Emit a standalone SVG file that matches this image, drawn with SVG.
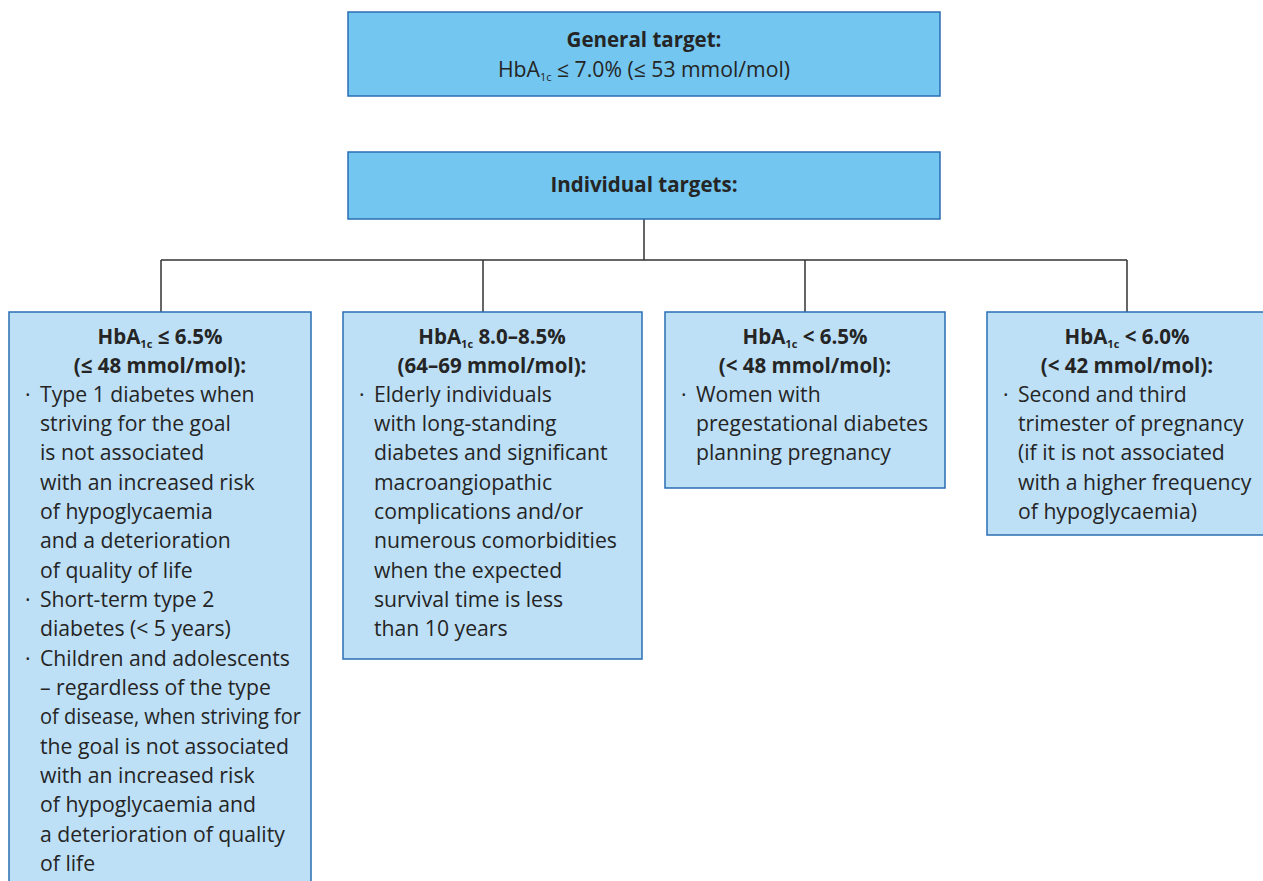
<svg xmlns="http://www.w3.org/2000/svg" width="1263" height="881" viewBox="0 0 1263 881">
  <style>
    .head { fill: #73c6ef; stroke: #2a6db3; stroke-width: 1.5; }
    .box { fill: #bde0f7; stroke: #2a6db3; stroke-width: 1.5; }
    text { font-family: "Open Sans", Lato, sans-serif; font-size: 21.2px; fill: #252525; }
    .b { font-weight: bold; font-size: 20.5px; }
    .c { text-anchor: middle; }
    .sub { font-size: 11px; }
    .link { fill: none; stroke: #333; stroke-width: 1.5; }
  </style>
  <rect width="1263" height="881" fill="#fff"/>

  <g id="connectors">
    <path class="link" d="M644 219 V260 M161 260 H1127 M161 260 V312 M483 260 V312 M805 260 V312 M1127 260 V312"/>
  </g>

  <g id="general-target">
    <rect class="head" x="348" y="12" width="592" height="84"/>
    <text class="b c" x="644" y="47">General target:</text>
    <text class="c" x="644" y="77">HbA<tspan class="sub" dy="4">1c</tspan><tspan dy="-4"> ≤ 7.0% (≤ 53 mmol/mol)</tspan></text>
  </g>

  <g id="individual-targets">
    <rect class="head" x="348" y="152" width="592" height="67"/>
    <text class="b c" x="644" y="192">Individual targets:</text>
  </g>

  <g id="target-6-5-le">
    <rect class="box" x="9" y="312" width="302" height="590"/>
    <text class="b c" x="160" y="344">HbA<tspan class="sub" dy="4">1c</tspan><tspan dy="-4"> ≤ 6.5%</tspan></text>
    <text class="b c" x="160" y="373">(≤ 48 mmol/mol):</text>
    <text x="25" y="402">·</text>
    <text x="25" y="607">·</text>
    <text x="25" y="666">·</text>
    <text x="40">
      <tspan x="40" y="402">Type 1 diabetes when</tspan>
      <tspan x="40" y="431">striving for the goal</tspan>
      <tspan x="40" y="460">is not associated</tspan>
      <tspan x="40" y="490">with an increased risk</tspan>
      <tspan x="40" y="519">of hypoglycaemia</tspan>
      <tspan x="40" y="548">and a deterioration</tspan>
      <tspan x="40" y="578">of quality of life</tspan>
      <tspan x="40" y="607">Short-term type 2</tspan>
      <tspan x="40" y="636">diabetes (&lt; 5 years)</tspan>
      <tspan x="40" y="666">Children and adolescents</tspan>
      <tspan x="40" y="695">– regardless of the type</tspan>
      <tspan x="40" y="724" textLength="261" lengthAdjust="spacingAndGlyphs">of disease, when striving for</tspan>
      <tspan x="40" y="754">the goal is not associated</tspan>
      <tspan x="40" y="783">with an increased risk</tspan>
      <tspan x="40" y="812">of hypoglycaemia and</tspan>
      <tspan x="40" y="842">a deterioration of quality</tspan>
      <tspan x="40" y="871">of life</tspan>
    </text>
  </g>

  <g id="target-8-0">
    <rect class="box" x="343" y="312" width="299" height="347"/>
    <text class="b c" x="492" y="344">HbA<tspan class="sub" dy="4">1c</tspan><tspan dy="-4"> 8.0–8.5%</tspan></text>
    <text class="b c" x="492" y="373">(64–69 mmol/mol):</text>
    <text x="359" y="402">·</text>
    <text x="374">
      <tspan x="374" y="402">Elderly individuals</tspan>
      <tspan x="374" y="431">with long-standing</tspan>
      <tspan x="374" y="460">diabetes and significant</tspan>
      <tspan x="374" y="490">macroangiopathic</tspan>
      <tspan x="374" y="519">complications and/or</tspan>
      <tspan x="374" y="548">numerous comorbidities</tspan>
      <tspan x="374" y="578">when the expected</tspan>
      <tspan x="374" y="607">survival time is less</tspan>
      <tspan x="374" y="636">than 10 years</tspan>
    </text>
  </g>

  <g id="target-6-5-lt">
    <rect class="box" x="665" y="312" width="280" height="176"/>
    <text class="b c" x="805" y="344">HbA<tspan class="sub" dy="4">1c</tspan><tspan dy="-4"> &lt; 6.5%</tspan></text>
    <text class="b c" x="805" y="373">(&lt; 48 mmol/mol):</text>
    <text x="681" y="402">·</text>
    <text x="696">
      <tspan x="696" y="402">Women with</tspan>
      <tspan x="696" y="431">pregestational diabetes</tspan>
      <tspan x="696" y="460">planning pregnancy</tspan>
    </text>
  </g>

  <g id="target-6-0">
    <rect class="box" x="987" y="312" width="290" height="223"/>
    <text class="b c" x="1127" y="344">HbA<tspan class="sub" dy="4">1c</tspan><tspan dy="-4"> &lt; 6.0%</tspan></text>
    <text class="b c" x="1127" y="373">(&lt; 42 mmol/mol):</text>
    <text x="1003" y="402">·</text>
    <text x="1018">
      <tspan x="1018" y="402">Second and third</tspan>
      <tspan x="1018" y="431">trimester of pregnancy</tspan>
      <tspan x="1018" y="460">(if it is not associated</tspan>
      <tspan x="1018" y="490">with a higher frequency</tspan>
      <tspan x="1018" y="519">of hypoglycaemia)</tspan>
    </text>
  </g>
</svg>
